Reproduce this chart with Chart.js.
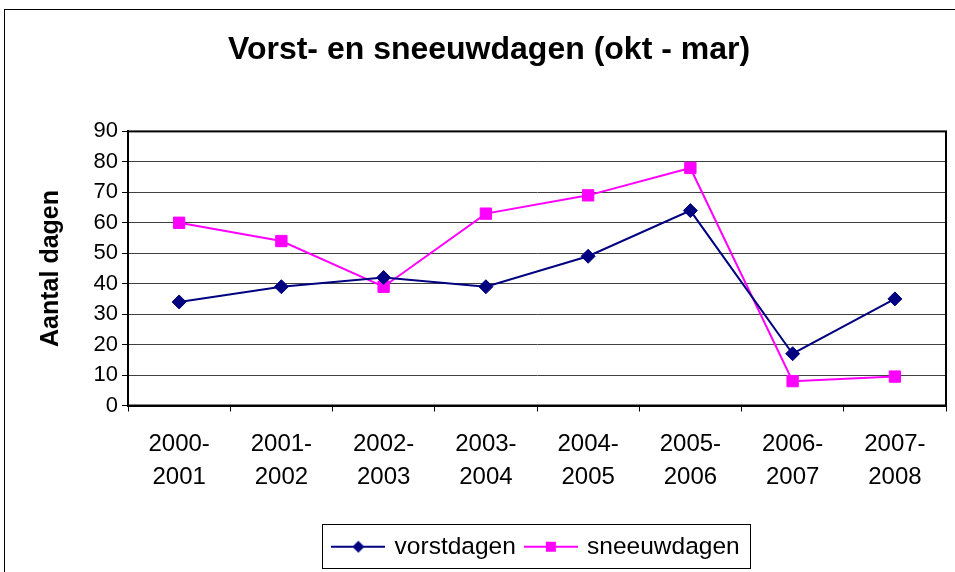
<!DOCTYPE html>
<html>
<head>
<meta charset="utf-8">
<script src="https://cdn.jsdelivr.net/npm/chart.js@4"></script>
<style>
    html, body { margin: 0; padding: 0; background: #fff; overflow: hidden; }
    #wrap { position: relative; width: 955px; height: 572px; }
    #frame { position: absolute; left: 4px; top: 9px; width: 1000px; height: 600px; border: 1px solid #000; box-sizing: border-box; }
    canvas { position: absolute; left: 0; top: 0; }
</style>
</head>
<body>
<div id="wrap">
    <div id="frame"></div>
    <canvas id="chart" width="955" height="572"></canvas>
</div>
<script>
// Data
const seasons = [
    ['2000-', '2001'], ['2001-', '2002'], ['2002-', '2003'], ['2003-', '2004'],
    ['2004-', '2005'], ['2005-', '2006'], ['2006-', '2007'], ['2007-', '2008']
];
const vorstdagen = [34, 39, 42, 39, 49, 64, 17, 35];
const sneeuwdagen = [60, 54, 39, 63, 69, 78, 8, 9.5];
const yMin = 0;
const yMax = 90;
const yStep = 10;

const FONT = 'Arial, "Liberation Sans", sans-serif';
const NAVY = '#000080';
const MAGENTA = '#FF00FF';

// Legend sample: short line with the marker in the middle
function legendSample(color, style) {
    const c = document.createElement('canvas');
    c.width = 54;
    c.height = 18;
    const ctx = c.getContext('2d');
    ctx.strokeStyle = color;
    ctx.lineWidth = 2;
    ctx.beginPath();
    ctx.moveTo(0, 9);
    ctx.lineTo(54, 9);
    ctx.stroke();
    ctx.fillStyle = color;
    ctx.beginPath();
    if (style === 'diamond') {
        ctx.moveTo(27, 3); ctx.lineTo(33, 9); ctx.lineTo(27, 15); ctx.lineTo(21, 9);
    } else {
        ctx.rect(22, 4, 10, 10);
    }
    ctx.closePath();
    ctx.fill();
    return c;
}
const samples = [legendSample(NAVY, 'diamond'), legendSample(MAGENTA, 'square')];

// Frame around the plot area and around the legend
const framePlugin = {
    id: 'frames',
    afterDraw(chart) {
        const ctx = chart.ctx;
        const a = chart.chartArea;
        ctx.save();
        ctx.strokeStyle = '#000';
        ctx.lineWidth = 2;
        ctx.strokeRect(a.left, a.top, a.right - a.left, a.bottom - a.top);

        const hb = chart.legend.legendHitBoxes;
        if (hb && hb.length) {
            const last = hb[hb.length - 1];
            const l = Math.round(hb[0].left - 12) + 0.5;
            const r = Math.round(last.left + last.width + 10) + 0.5;
            const t = Math.round(chart.legend.top) + 0.5;
            const b = Math.round(chart.legend.bottom) - 0.5;
            ctx.lineWidth = 1;
            ctx.strokeRect(l, t, r - l, b - t);
        }
        ctx.restore();
    }
};

new Chart(document.getElementById('chart'), {
    type: 'line',
    data: {
        labels: seasons,
        datasets: [{
            label: 'vorstdagen',
            data: vorstdagen,
            borderColor: NAVY,
            backgroundColor: NAVY,
            borderWidth: 2,
            pointStyle: 'rectRot',
            pointRadius: 7,
            pointHoverRadius: 7,
            pointBorderWidth: 1,
            tension: 0
        }, {
            label: 'sneeuwdagen',
            data: sneeuwdagen,
            borderColor: MAGENTA,
            backgroundColor: MAGENTA,
            borderWidth: 2,
            pointStyle: 'rect',
            pointRadius: 8,
            pointHoverRadius: 8,
            pointBorderWidth: 1,
            tension: 0
        }]
    },
    options: {
        responsive: false,
        animation: false,
        layout: { padding: { left: 28, right: 5, top: 0, bottom: 3 } },
        plugins: {
            title: {
                display: true,
                text: 'Vorst- en sneeuwdagen (okt - mar)',
                color: '#000',
                font: { family: FONT, size: 32, weight: 'bold' },
                padding: { top: 31, bottom: 62 }
            },
            legend: {
                position: 'bottom',
                fullSize: false,
                labels: {
                    color: '#000',
                    font: { family: FONT, size: 24.5 },
                    usePointStyle: true,
                    pointStyleWidth: 48,
                    padding: 11,
                    generateLabels(chart) {
                        const items = Chart.defaults.plugins.legend.labels.generateLabels(chart);
                        items.forEach((item, i) => { item.pointStyle = samples[i]; });
                        return items;
                    }
                }
            },
            tooltip: { enabled: false }
        },
        scales: {
            x: {
                offset: true,
                grid: {
                    offset: true,
                    drawOnChartArea: false,
                    color: '#000',
                    tickLength: 6,
                    tickWidth: 1
                },
                border: { color: '#000', width: 2 },
                ticks: {
                    color: '#000',
                    font: { family: FONT, size: 24, lineHeight: 1.38 },
                    padding: 16,
                    maxRotation: 0,
                    autoSkip: false
                },
                afterFit(scale) {
                    scale.height = 118;
                    scale.paddingLeft = 0;
                    scale.paddingRight = 0;
                }
            },
            y: {
                min: yMin,
                max: yMax,
                grid: {
                    color: '#404040',
                    lineWidth: 1,
                    tickLength: 6,
                    tickColor: '#000'
                },
                border: { color: '#000', width: 2 },
                ticks: {
                    stepSize: yStep,
                    color: '#000',
                    font: { family: FONT, size: 22 },
                    padding: 4
                },
                title: {
                    display: true,
                    text: 'Aantal dagen',
                    color: '#000',
                    font: { family: FONT, size: 25, weight: 'bold' },
                    padding: { top: 8, bottom: 0 }
                },
                afterFit(scale) { scale.width = 100; }
            }
        }
    },
    plugins: [framePlugin]
});
</script>
</body>
</html>
